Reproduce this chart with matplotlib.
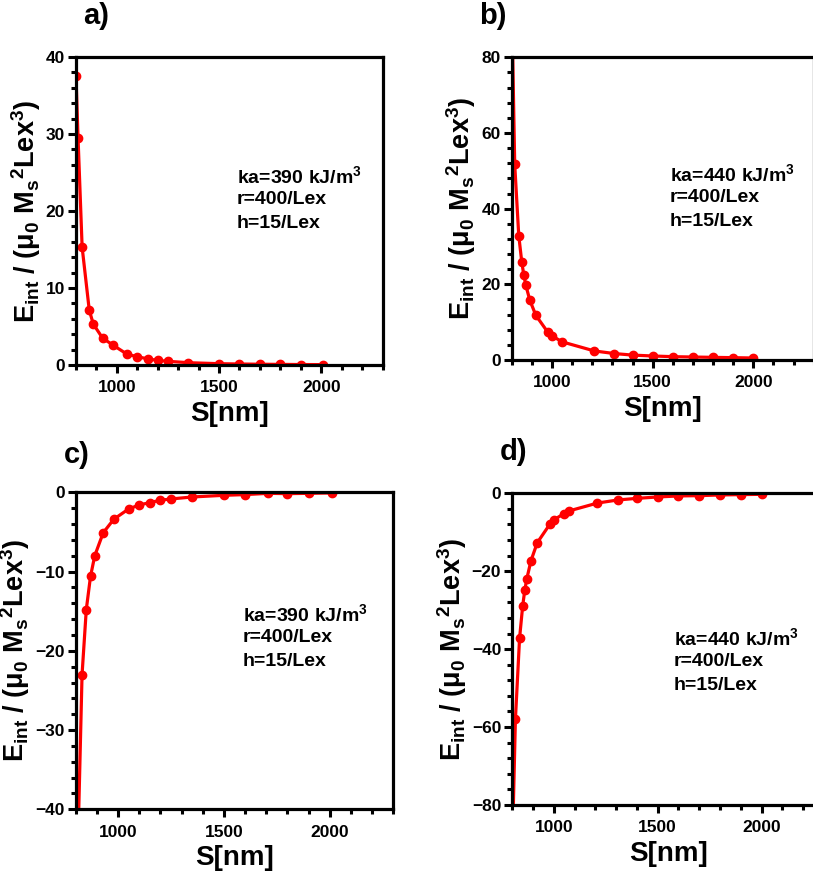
import matplotlib
matplotlib.use("Agg")
import matplotlib.pyplot as plt
from matplotlib.ticker import MultipleLocator, FixedLocator

plt.rcParams['font.family'] = ['Liberation Sans', 'DejaVu Sans']
plt.rcParams['font.weight'] = 'bold'
plt.rcParams['mathtext.default'] = 'regular'

# interaction energy vs separation, four cases
s_a = [795, 800, 810, 830, 865, 885, 930, 980, 1050, 1100, 1150, 1200, 1250, 1350, 1500, 1600, 1700, 1800, 1900, 2010]
e_a = [60, 37.5, 29.5, 15.3, 7.1, 5.3, 3.5, 2.6, 1.4, 1.08, 0.8, 0.6, 0.48, 0.3, 0.17, 0.13, 0.1, 0.08, 0.06, 0.05]

s_b = [800, 815, 835, 850, 860, 870, 890, 920, 980, 1000, 1050, 1210, 1310, 1400, 1500, 1600, 1700, 1800, 1900, 2000]
e_b = [95, 51.7, 32.9, 25.9, 22.5, 19.8, 15.8, 11.8, 7.3, 6.4, 4.8, 2.4, 1.7, 1.3, 1.06, 0.88, 0.79, 0.70, 0.62, 0.53]

s_c = [810, 830, 850, 870, 890, 930, 980, 1050, 1100, 1150, 1200, 1250, 1350, 1500, 1600, 1710, 1800, 1900, 2010]
e_c = [-45, -23.0, -14.8, -10.6, -8.0, -5.1, -3.4, -2.1, -1.6, -1.3, -1.0, -0.84, -0.59, -0.38, -0.29, -0.13, -0.17, -0.13, -0.08]

s_d = [800, 815, 835, 850, 860, 870, 890, 920, 980, 1000, 1050, 1075, 1210, 1310, 1400, 1500, 1600, 1700, 1800, 1900, 2000]
e_d = [-91.5, -58.0, -37.2, -28.9, -24.9, -21.9, -17.3, -12.7, -8.0, -6.8, -5.2, -4.5, -2.5, -1.7, -1.3, -0.94, -0.68, -0.6, -0.43, -0.34, -0.26]

ka_a = 'ka=390 kJ/m$^3$'
ka_b = 'ka=440 kJ/m$^3$'
params = ['r=400/Lex', 'h=15/Lex']
ylabel = r'E$_{int}$ / ($\mu_0$ M$_s$$^2$Lex$^3$)'

W, H = 813, 877
fig = plt.figure(figsize=(W / 100, H / 100), dpi=100)


def make_axes(left, top, right, bottom):
    return fig.add_axes([left / W, 1 - bottom / H, (right - left) / W, (bottom - top) / H])


panels = [
    # x, y, box (px), ylim, y major, y minor, text, text pos (px), tag, tag pos
    (s_a, e_a, (76, 57, 382.5, 365), (0, 40), 10, 2, ka_a, (237, 176), 'a)', (96, 16)),
    (s_b, e_b, (511.7, 57.3, 813.7, 360), (0, 80), 20, 4, ka_b, (670, 174), 'b)', (493, 16)),
    (s_c, e_c, (75.7, 492.3, 393.3, 809.3), (-40, 0), 10, 2, ka_a, (243, 614), 'c)', (77, 455)),
    (s_d, e_d, (512.3, 493.3, 823.8, 805), (-80, 0), 20, 4, ka_b, (674, 638), 'd)', (514, 452)),
]

for s, e, box, ylim, ymaj, ymin, ka, tpos, tag, tagpos in panels:
    ax = make_axes(*box)
    ax.plot(s, e, color='#ff0000', lw=2.3, marker='o', ms=6, mec='#ff0000')
    ax.set_xlim(800, 2300)
    ax.set_ylim(*ylim)
    ax.xaxis.set_major_locator(FixedLocator([1000, 1500, 2000]))
    ax.xaxis.set_minor_locator(MultipleLocator(100))
    ax.yaxis.set_major_locator(MultipleLocator(ymaj))
    ax.yaxis.set_minor_locator(MultipleLocator(ymin))
    for sp in ax.spines.values():
        sp.set_linewidth(2.3)
        sp.set_color('black')
    ax.tick_params(which='major', length=6, width=2.2, labelsize=12.5, pad=2)
    ax.tick_params(axis='x', which='major', pad=5)
    ax.tick_params(which='minor', length=3.5, width=2.2)
    ax.set_xlabel('S[nm]', fontsize=20, fontweight='bold', labelpad=4)
    ax.set_ylabel(ylabel, fontsize=19.5, fontweight='bold', labelpad=2)

    # annotation block, one line every 24 px
    lines = [ka] + params
    for i, line in enumerate(lines):
        fig.text(tpos[0] / W, 1 - (tpos[1] + 23.5 * i) / H, line, fontsize=14,
                 fontweight='bold', va='center', ha='left')
    fig.text(tagpos[0] / W, 1 - tagpos[1] / H, tag, fontsize=21, fontweight='bold', va='center', ha='center')

fig.savefig('out.png', dpi=100)
